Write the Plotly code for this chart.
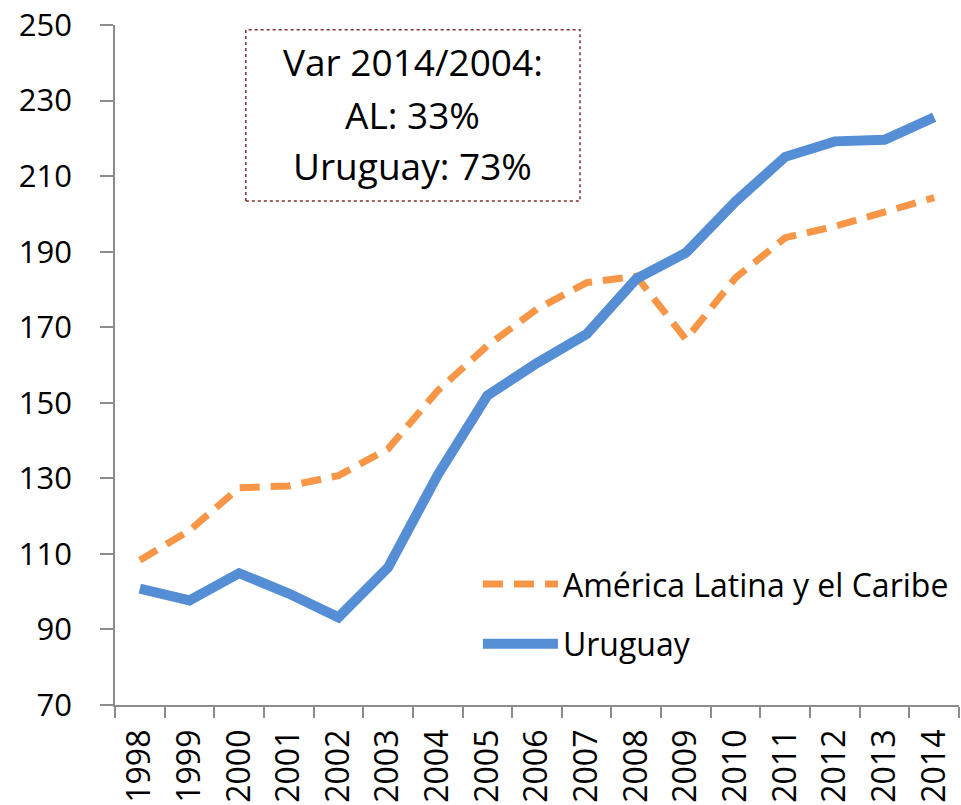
import plotly.graph_objects as go

years = [str(y) for y in range(1998, 2015)]
america_latina = [108.3, 116.2, 127.5, 128.0, 130.7, 137.8, 153.2, 165.1, 174.8,
                  181.8, 183.5, 166.8, 183.1, 193.7, 196.7, 200.7, 204.3]
uruguay = [100.8, 97.7, 104.9, 99.5, 93.2, 106.4, 130.9, 151.9, 160.5,
           168.2, 182.8, 189.7, 203.3, 215.1, 219.2, 219.6, 225.6]
y_ticks = [70, 90, 110, 130, 150, 170, 190, 210, 230, 250]
summary_lines = ["Var 2014/2004:", "AL: 33%", "Uruguay: 73%"]

TEXT_FONT = "Open Sans"

fig = go.Figure()
fig.add_trace(go.Scatter(
    x=years, y=america_latina, mode="lines", name="América Latina y el Caribe",
    legendgroup="al",
    line=dict(color="#f79646", width=7, dash="20px,11px"),
))
fig.add_trace(go.Scatter(
    x=years, y=uruguay, mode="lines", name="Uruguay",
    legendgroup="uy",
    line=dict(color="#558ed5", width=10),
))

fig.update_layout(
    width=961, height=805,
    margin=dict(l=115, r=2, t=25, b=98),
    paper_bgcolor="white", plot_bgcolor="white",
    font=dict(family=TEXT_FONT, size=29, color="black"),
    showlegend=True,
    legend=dict(
        x=0.43, y=0.218, xanchor="left", yanchor="top",
        bgcolor="rgba(0,0,0,0)", itemwidth=75,
        tracegroupgap=15, traceorder="grouped",
        font=dict(family=TEXT_FONT, size=32, color="black"),
    ),
    xaxis=dict(
        type="category", tickangle=-90, tickson="boundaries",
        showline=True, linecolor="#8c8c8c", linewidth=1.5,
        ticks="outside", ticklen=11, tickcolor="#8c8c8c", tickwidth=1.5,
        showgrid=False, zeroline=False,
        ticklabelstandoff=10,
        tickfont=dict(family=TEXT_FONT, size=32, color="black"),
        range=[-0.5, 16.5],
    ),
    yaxis=dict(
        range=[70, 250], tickvals=y_ticks,
        showline=True, linecolor="#8c8c8c", linewidth=1.5,
        ticks="outside", ticklen=13, tickcolor="#8c8c8c", tickwidth=1.5,
        showgrid=False, zeroline=False,
        ticklabelstandoff=22,
        tickfont=dict(family=TEXT_FONT, size=31, color="black"),
    ),
)

# Dotted frame with the 2004-2014 variation summary
fig.add_shape(
    type="rect", xref="paper", yref="paper",
    x0=0.155, x1=0.551, y0=0.741, y1=0.993,
    line=dict(color="#7f2f2f", width=1.5, dash="dot"),
    fillcolor="rgba(0,0,0,0)",
)
for line_text, y_pos in zip(summary_lines, [0.946, 0.868, 0.793]):
    fig.add_annotation(
        xref="paper", yref="paper", x=0.353, y=y_pos,
        xanchor="center", yanchor="middle",
        text=line_text, showarrow=False,
        font=dict(family=TEXT_FONT, size=37, color="black"),
    )

fig.write_html("out.html")
